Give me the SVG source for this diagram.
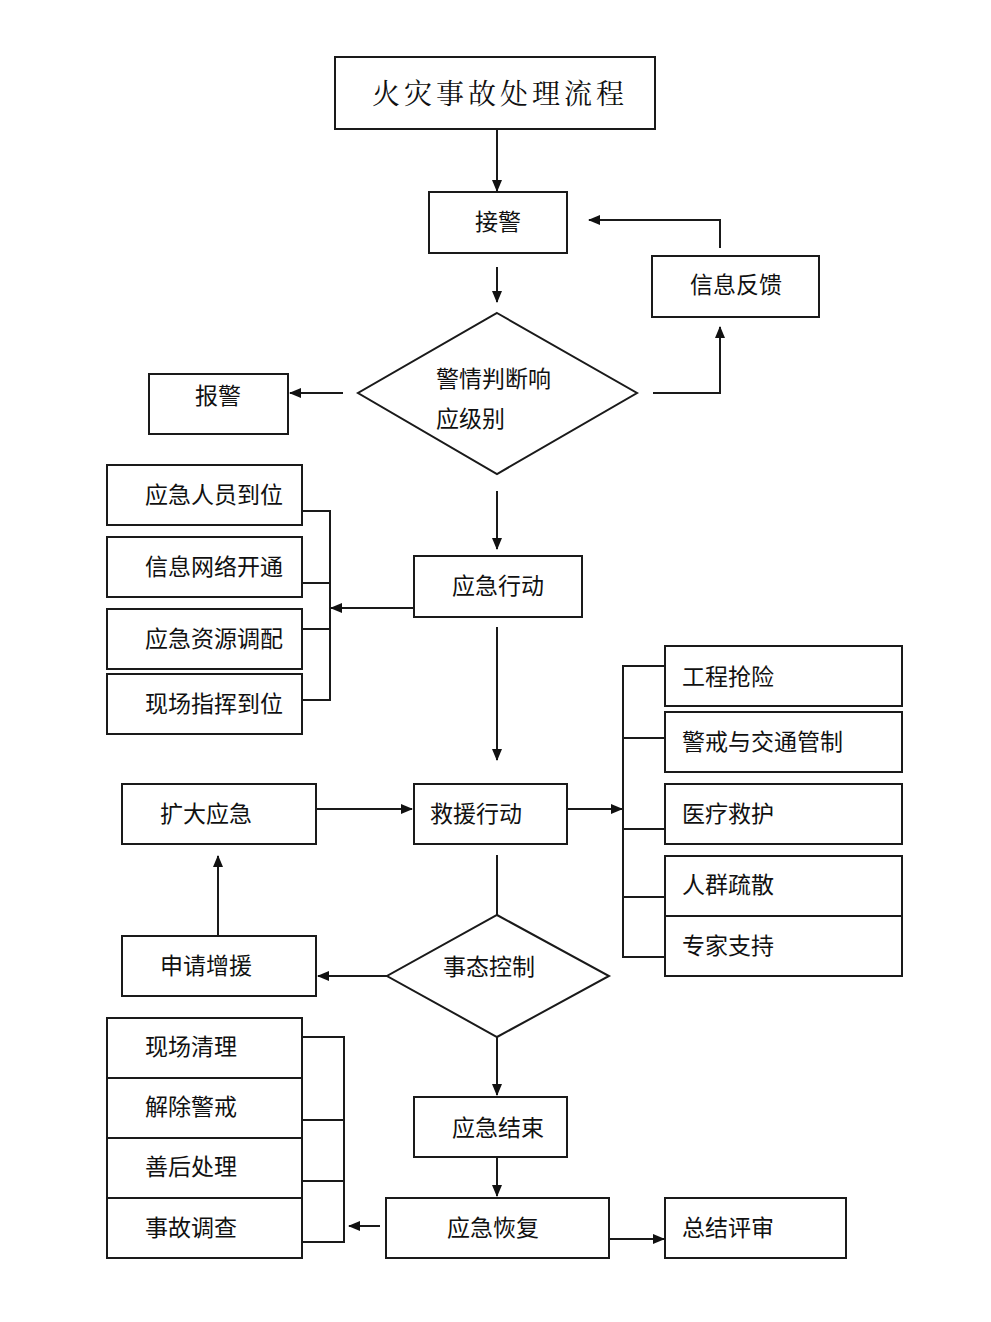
<svg xmlns="http://www.w3.org/2000/svg" width="991" height="1322" viewBox="0 0 991 1322">
<defs>
<marker id="ah" markerWidth="12" markerHeight="12" refX="11" refY="6" orient="auto" markerUnits="userSpaceOnUse">
<path d="M0,1 L12,6 L0,11 Z" fill="#111"/>
</marker>
<style>
.b{fill:#fff;stroke:#1a1a1a;stroke-width:2}
.t{font-family:"Noto Sans CJK SC","Microsoft YaHei",sans-serif;font-size:23px;fill:#111}
.m{text-anchor:middle}
.ttl{font-family:"Noto Serif CJK SC","Noto Sans CJK SC",serif;font-size:28px;fill:#111;letter-spacing:4px}
.c{fill:none;stroke:#1a1a1a;stroke-width:2}
.a{fill:none;stroke:#1a1a1a;stroke-width:2;marker-end:url(#ah)}
</style>
</defs>
<rect width="991" height="1322" fill="#fff"/>

<g id="title"><rect class="b" x="335" y="57" width="320" height="72"/><text class="ttl" x="372" y="104">火灾事故处理流程</text></g>
<g id="jiejing"><rect class="b" x="429" y="192" width="138" height="61"/><text class="t m" x="498" y="230">接警</text></g>
<g id="xinxifankui"><rect class="b" x="652" y="256" width="167" height="61"/><text class="t m" x="736" y="293">信息反馈</text></g>
<g id="baojing"><rect class="b" x="149" y="374" width="139" height="60"/><text class="t m" x="218" y="404">报警</text></g>
<g id="panduan"><polygon class="b" points="497,313 637,393 497,474 358,393"/><text class="t" x="436" y="387">警情判断响</text><text class="t" x="436" y="427">应级别</text></g>

<g id="yingjixingdong"><rect class="b" x="414" y="556" width="168" height="61"/><text class="t m" x="498" y="594">应急行动</text></g>
<g id="l1"><rect class="b" x="107" y="465" width="195" height="60"/><text class="t" x="145" y="503">应急人员到位</text></g>
<g id="l2"><rect class="b" x="107" y="537" width="195" height="60"/><text class="t" x="145" y="575">信息网络开通</text></g>
<g id="l3"><rect class="b" x="107" y="609" width="195" height="60"/><text class="t" x="145" y="647">应急资源调配</text></g>
<g id="l4"><rect class="b" x="107" y="674" width="195" height="60"/><text class="t" x="145" y="712">现场指挥到位</text></g>

<g id="jiuyuan"><rect class="b" x="414" y="784" width="153" height="60"/><text class="t" x="430" y="822">救援行动</text></g>
<g id="kuoda"><rect class="b" x="122" y="784" width="194" height="60"/><text class="t" x="160" y="822">扩大应急</text></g>
<g id="r1"><rect class="b" x="665" y="646" width="237" height="60"/><text class="t" x="682" y="685">工程抢险</text></g>
<g id="r2"><rect class="b" x="665" y="712" width="237" height="60"/><text class="t" x="682" y="750">警戒与交通管制</text></g>
<g id="r3"><rect class="b" x="665" y="784" width="237" height="60"/><text class="t" x="682" y="822">医疗救护</text></g>
<g id="r4"><rect class="b" x="665" y="856" width="237" height="60"/><text class="t" x="682" y="893">人群疏散</text></g>
<g id="r5"><rect class="b" x="665" y="916" width="237" height="60"/><text class="t" x="682" y="954">专家支持</text></g>

<g id="shitai"><polygon class="b" points="497,915 609,976 497,1037 387,976"/><text class="t" x="443" y="975">事态控制</text></g>
<g id="shenqing"><rect class="b" x="122" y="936" width="194" height="60"/><text class="t" x="160" y="974">申请增援</text></g>

<g id="b1"><rect class="b" x="107" y="1018" width="195" height="60"/><text class="t" x="145" y="1055">现场清理</text></g>
<g id="b2"><rect class="b" x="107" y="1078" width="195" height="60"/><text class="t" x="145" y="1115">解除警戒</text></g>
<g id="b3"><rect class="b" x="107" y="1138" width="195" height="60"/><text class="t" x="145" y="1175">善后处理</text></g>
<g id="b4"><rect class="b" x="107" y="1198" width="195" height="60"/><text class="t" x="145" y="1236">事故调查</text></g>
<g id="jieshu"><rect class="b" x="414" y="1097" width="153" height="60"/><text class="t" x="452" y="1136">应急结束</text></g>
<g id="huifu"><rect class="b" x="386" y="1198" width="223" height="60"/><text class="t" x="447" y="1236">应急恢复</text></g>
<g id="zongjie"><rect class="b" x="665" y="1198" width="181" height="60"/><text class="t" x="682" y="1236">总结评审</text></g>

<g id="connectors">
<path class="a" d="M497,129 V191"/>
<path class="a" d="M497,267 V302"/>
<path class="a" d="M720,248 V220 H589"/>
<path class="a" d="M653,393 H720 V327"/>
<path class="a" d="M343,393 H290"/>
<path class="a" d="M497,491 V549"/>
<path class="a" d="M414,608 H331"/>
<path class="c" d="M302,511 H330 V700 H302 M302,583 H330 M302,629 H330"/>
<path class="a" d="M497,627 V760"/>
<path class="a" d="M316,809 H412"/>
<path class="a" d="M567,809 H622"/>
<path class="c" d="M665,666 H623 V957 H665 M623,738 H665 M623,829 H665 M623,897 H665"/>
<path class="c" d="M497,855 V915"/>
<path class="a" d="M387,976 H318"/>
<path class="a" d="M218,936 V856"/>
<path class="a" d="M497,1037 V1095"/>
<path class="a" d="M497,1157 V1196"/>
<path class="a" d="M380,1226 H349"/>
<path class="c" d="M302,1037 H344 V1242 H302 M302,1120 H344 M302,1181 H344"/>
<path class="a" d="M609,1239 H664"/>
</g>
</svg>
